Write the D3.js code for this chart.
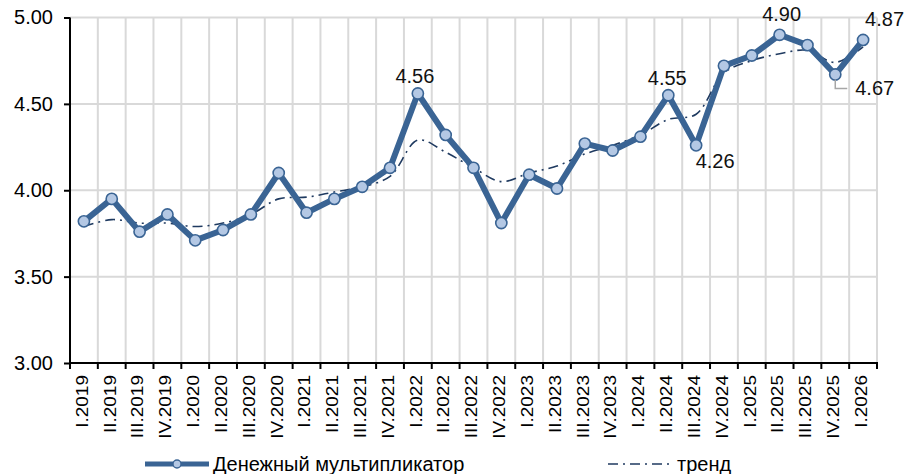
<!DOCTYPE html>
<html>
<head>
<meta charset="utf-8">
<script src="https://cdn.jsdelivr.net/npm/d3@7"></script>
<style>
  html, body { margin: 0; padding: 0; background: #fff; }
  svg { display: block; font-family: "Liberation Sans", Arial, sans-serif; }
</style>
</head>
<body>
<svg id="chart" width="904" height="474"></svg>
<script>
// Quarters, I.2019 … I.2026
const quarters = [
  "I.2019","II.2019","III.2019","IV.2019",
  "I.2020","II.2020","III.2020","IV.2020",
  "I.2021","II.2021","III.2021","IV.2021",
  "I.2022","II.2022","III.2022","IV.2022",
  "I.2023","II.2023","III.2023","IV.2023",
  "I.2024","II.2024","III.2024","IV.2024",
  "I.2025","II.2025","III.2025","IV.2025",
  "I.2026"
];

// Money multiplier
const multiplier = [
  3.82, 3.95, 3.76, 3.86,
  3.71, 3.77, 3.86, 4.10,
  3.87, 3.95, 4.02, 4.13,
  4.56, 4.32, 4.13, 3.81,
  4.09, 4.01, 4.27, 4.23,
  4.31, 4.55, 4.26, 4.72,
  4.78, 4.90, 4.84, 4.67,
  4.87
];

// Trend component
const trend = [
  3.79, 3.83, 3.81, 3.81,
  3.79, 3.81, 3.86, 3.95,
  3.96, 3.99, 4.02, 4.08,
  4.29, 4.22, 4.13, 4.05,
  4.10, 4.14, 4.21, 4.26,
  4.32, 4.41, 4.44, 4.68,
  4.75, 4.79, 4.81, 4.74,
  4.83
];

const yTicks = [3.00, 3.50, 4.00, 4.50, 5.00];
const seriesNames = ["Денежный мультипликатор", "тренд"];

// Which points carry a value label
const labelled = [
  { i: 12, dx: -3,  dy: -11, anchor: "middle" },
  { i: 21, dx: -1,  dy: -10, anchor: "middle" },
  { i: 22, dx: 19,  dy: 23,  anchor: "middle" },
  { i: 25, dx: 2,   dy: -14, anchor: "middle" },
  { i: 27, dx: 20,  dy: 20,  anchor: "start", leader: true },
  { i: 28, dx: 2,   dy: -14, anchor: "start" }
];

const lineColor = "#3a6494";
const markerFill = "#b4c8e4";
const trendColor = "#1f3a60";
const gridColor = "#d9d9d9";

const svg = d3.select("#chart");
const plotL = 70, plotR = 877, plotT = 17.5, plotB = 363;

const x = d3.scaleBand().domain(quarters).range([plotL, plotR]).paddingInner(0).paddingOuter(0);
const y = d3.scaleLinear().domain([3, 5]).range([plotB, plotT]);
const cx = q => x(q) + x.bandwidth() / 2;
const fmt = d3.format(".2f");

// Gridlines
const grid = svg.append("g");
grid.selectAll("line.h").data(yTicks.filter(v => v > 3)).join("line")
  .attr("class", "h")
  .attr("x1", plotL).attr("x2", plotR)
  .attr("y1", d => y(d)).attr("y2", d => y(d))
  .attr("stroke", gridColor).attr("stroke-width", 2);
grid.selectAll("line.v").data(quarters).join("line")
  .attr("class", "v")
  .attr("x1", d => x(d) + x.bandwidth()).attr("x2", d => x(d) + x.bandwidth())
  .attr("y1", plotT).attr("y2", plotB)
  .attr("stroke", gridColor).attr("stroke-width", 2);

// Y axis
const yAxis = svg.append("g")
  .attr("transform", `translate(${plotL},0)`)
  .call(d3.axisLeft(y).tickValues(yTicks).tickFormat(fmt).tickSize(6).tickPadding(11));
yAxis.select(".domain").attr("stroke", "#000").attr("stroke-width", 2)
  .attr("d", `M0,${plotT}V${plotB}`);
yAxis.selectAll(".tick line").attr("stroke", "#000").attr("stroke-width", 2);
yAxis.selectAll(".tick text").attr("font-size", 20).attr("fill", "#000")
  .attr("font-family", "Liberation Sans, Arial, sans-serif");

// X axis: ticks on band boundaries, rotated quarter labels
const xAxis = svg.append("g");
xAxis.append("line").attr("x1", plotL - 1).attr("x2", plotR + 1)
  .attr("y1", plotB).attr("y2", plotB).attr("stroke", "#000").attr("stroke-width", 2);
const bounds = [x(quarters[0])].concat(quarters.map(q => x(q) + x.bandwidth()));
xAxis.selectAll("line.tk").data(bounds).join("line")
  .attr("class", "tk")
  .attr("x1", d => d).attr("x2", d => d)
  .attr("y1", plotB).attr("y2", plotB + 6)
  .attr("stroke", "#000").attr("stroke-width", 2);
xAxis.selectAll("text").data(quarters).join("text")
  .attr("transform", d => `translate(${cx(d) - 2},${plotB + 12}) rotate(-90) scale(1,0.85)`)
  .attr("text-anchor", "end")
  .attr("dy", "0.36em")
  .attr("font-size", 19)
  .attr("fill", "#000")
  .text(d => d);

// Trend line (dash-dot, smoothed)
const trendLine = d3.line()
  .x((d, i) => cx(quarters[i]))
  .y(d => y(d))
  .curve(d3.curveCatmullRom.alpha(0.5));
svg.append("path").datum(trend)
  .attr("d", trendLine)
  .attr("fill", "none")
  .attr("stroke", trendColor)
  .attr("stroke-width", 1.6)
  .attr("stroke-dasharray", "10,5,2,5");

// Multiplier line
const mainLine = d3.line()
  .x((d, i) => cx(quarters[i]))
  .y(d => y(d));
svg.append("path").datum(multiplier)
  .attr("d", mainLine)
  .attr("fill", "none")
  .attr("stroke", lineColor)
  .attr("stroke-width", 6)
  .attr("stroke-linejoin", "round");

svg.append("g").selectAll("circle").data(multiplier).join("circle")
  .attr("cx", (d, i) => cx(quarters[i]))
  .attr("cy", d => y(d))
  .attr("r", 5.6)
  .attr("fill", markerFill)
  .attr("stroke", lineColor)
  .attr("stroke-width", 1.6);

// Value labels
const lbl = svg.append("g");
labelled.forEach(l => {
  const px = cx(quarters[l.i]), py = y(multiplier[l.i]);
  if (l.leader) {
    lbl.append("path")
      .attr("d", `M${px},${py + 5}V${py + 14}H${px + 12}`)
      .attr("fill", "none").attr("stroke", "#a6a6a6").attr("stroke-width", 1.5);
  }
  lbl.append("text")
    .attr("x", px + l.dx).attr("y", py + l.dy)
    .attr("text-anchor", l.anchor)
    .attr("font-size", 20)
    .attr("fill", "#111")
    .text(fmt(multiplier[l.i]));
});

// Legend
const leg = svg.append("g");
const ly = 464;
leg.append("line").attr("x1", 145).attr("x2", 209).attr("y1", ly).attr("y2", ly)
  .attr("stroke", lineColor).attr("stroke-width", 5);
leg.append("circle").attr("cx", 177).attr("cy", ly).attr("r", 4)
  .attr("fill", markerFill).attr("stroke", lineColor).attr("stroke-width", 1.4);
leg.append("text").attr("x", 213).attr("y", ly + 7).attr("font-size", 20).attr("fill", "#000")
  .text(seriesNames[0]);
leg.append("line").attr("x1", 608).attr("x2", 671).attr("y1", ly).attr("y2", ly)
  .attr("stroke", trendColor).attr("stroke-width", 1.6)
  .attr("stroke-dasharray", "10,5,2,5");
leg.append("text").attr("x", 677).attr("y", ly + 7).attr("font-size", 20).attr("fill", "#000")
  .text(seriesNames[1]);
</script>
</body>
</html>
